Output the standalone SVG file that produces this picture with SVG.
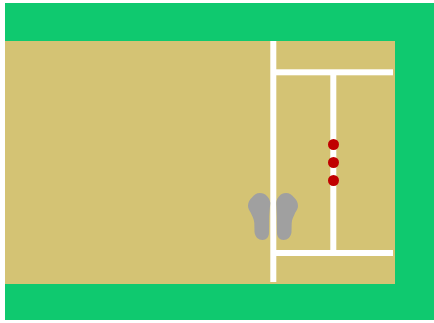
<svg xmlns="http://www.w3.org/2000/svg" width="434" height="323" viewBox="0 0 434 323">
<style>.l{fill:#fff}.d{fill:#c00000}.f{fill:#a0a0a0}</style>
<rect width="434" height="323" fill="#fff"/>
<rect x="5" y="3" width="429" height="317" fill="#0fc96f"/>
<rect x="5" y="41" width="390" height="243" fill="#d4c374"/>
<g id="creases">
<rect class="l" x="270.3" y="41" width="6" height="241"/>
<rect class="l" x="276" y="69.3" width="117" height="6"/>
<rect class="l" x="276" y="250" width="117" height="6"/>
<rect class="l" x="330.3" y="75" width="6" height="175"/>
</g>
<g id="stumps">
<circle class="d" cx="333.500" cy="144.500" r="5.500"/>
<circle class="d" cx="333.500" cy="162.500" r="5.500"/>
<circle class="d" cx="333.500" cy="180.500" r="5.500"/>
</g>
<g id="feet">
<path class="f" d="M260 193C256.500 193 254 195 252 197.500C249.500 199.500 248 202.500 248 206C248.300 210 250.500 211.500 251.300 214C252.500 216.500 254 219 254.300 223L254.500 232C255 237 258.500 240 262.500 240C266.500 240 268.800 237 269 233L269.200 216L270.300 203C270 198 265.500 193 260 193Z"/>
<path class="f" d="M286 193C289.500 193 292 195 294 197.500C296.500 199.500 298 202.500 298 206C297.700 210 295.500 211.500 294.700 214C293.500 216.500 292 219 291.700 223L291.500 232C291 237 287.500 240 283.500 240C279.500 240 277.200 237 277 233L276.800 216L276.300 203C276.500 198 280.500 193 286 193Z"/>
</g>
</svg>
